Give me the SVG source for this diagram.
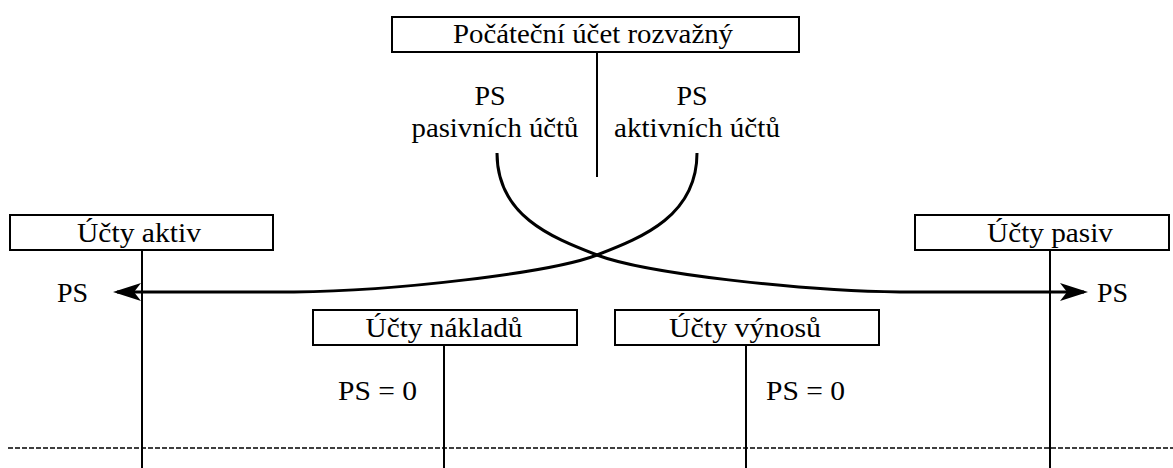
<svg xmlns="http://www.w3.org/2000/svg" width="1173" height="468" viewBox="0 0 1173 468">
  <style>
    .box { fill: #ffffff; stroke: #000000; stroke-width: 2; }
    .stem { stroke: #000000; stroke-width: 2; fill: none; }
    text { font-family: 'Liberation Serif', 'Times New Roman', serif; font-size: 28px; fill: #000000; }
    .mid { text-anchor: middle; }
    .flow { stroke: #000000; stroke-width: 3; fill: none; }
    .cut { stroke: #000000; stroke-width: 1.5; stroke-dasharray: 5 2; fill: none; }
  </style>
  <defs>
    <marker id="head" markerUnits="userSpaceOnUse" markerWidth="28" markerHeight="18" viewBox="0 0 28 18" refX="24" refY="9" orient="auto">
      <path d="M0,0 L28,9 L0,18 L7,9 Z" fill="#000000"/>
    </marker>
  </defs>

  <!-- opening balance account -->
  <g id="pocatecni-ucet">
    <rect class="box" x="392" y="17" width="407" height="35"/>
    <text class="mid" x="593" y="43" textLength="280" lengthAdjust="spacingAndGlyphs">Počáteční účet rozvažný</text>
    <line class="stem" x1="597" y1="52" x2="597" y2="177"/>
    <text class="mid" x="490" y="105">PS</text>
    <text class="mid" x="495" y="137" textLength="167" lengthAdjust="spacingAndGlyphs">pasivních účtů</text>
    <text class="mid" x="692" y="105">PS</text>
    <text class="mid" x="697" y="137" textLength="166" lengthAdjust="spacingAndGlyphs">aktivních účtů</text>
  </g>

  <!-- asset accounts -->
  <g id="ucty-aktiv">
    <rect class="box" x="10" y="215" width="263" height="35"/>
    <text class="mid" x="139" y="242" textLength="124" lengthAdjust="spacingAndGlyphs">Účty aktiv</text>
    <line class="stem" x1="142" y1="250" x2="142" y2="468"/>
    <text x="57" y="302">PS</text>
  </g>

  <!-- liability accounts -->
  <g id="ucty-pasiv">
    <rect class="box" x="915" y="215" width="254" height="35"/>
    <text class="mid" x="1050" y="242" textLength="126" lengthAdjust="spacingAndGlyphs">Účty pasiv</text>
    <line class="stem" x1="1050" y1="250" x2="1050" y2="468"/>
    <text x="1097" y="302">PS</text>
  </g>

  <!-- expense accounts -->
  <g id="ucty-nakladu">
    <rect class="box" x="313" y="310" width="264" height="35"/>
    <text class="mid" x="444" y="337" textLength="157" lengthAdjust="spacingAndGlyphs">Účty nákladů</text>
    <line class="stem" x1="444" y1="345" x2="444" y2="468"/>
    <text x="338" y="400" textLength="79" lengthAdjust="spacingAndGlyphs">PS = 0</text>
  </g>

  <!-- revenue accounts -->
  <g id="ucty-vynosu">
    <rect class="box" x="615" y="310" width="264" height="35"/>
    <text class="mid" x="745" y="337" textLength="152" lengthAdjust="spacingAndGlyphs">Účty výnosů</text>
    <line class="stem" x1="746" y1="345" x2="746" y2="468"/>
    <text x="766" y="400" textLength="79" lengthAdjust="spacingAndGlyphs">PS = 0</text>
  </g>

  <!-- transfer of opening balances and the period cut -->
  <g id="connectors">
    <path class="flow" d="M497,153 C497,215 550,237 597,255 S800,291 900,292 L1084,292" marker-end="url(#head)"/>
    <path class="flow" d="M697,153 C697,215 644,237 597,255 S394,291 294,292 L117,292" marker-end="url(#head)"/>
    <line class="cut" x1="8" y1="448" x2="1173" y2="448"/>
  </g>
</svg>
